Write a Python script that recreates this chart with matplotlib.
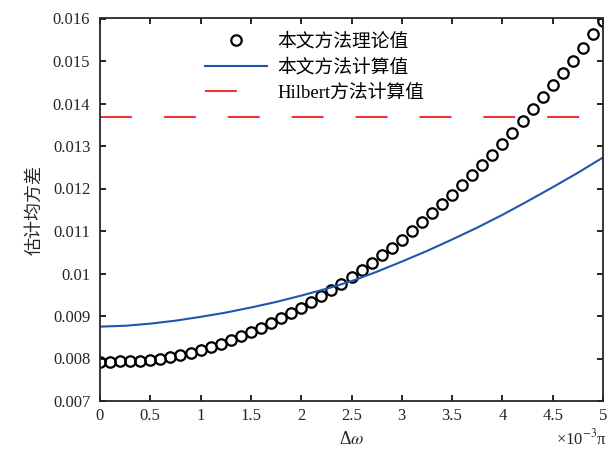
import numpy as np
import matplotlib
matplotlib.use('Agg')
import matplotlib.pyplot as plt

plt.rcParams['font.family'] = ['Liberation Serif', 'Noto Sans CJK SC']
plt.rcParams['mathtext.fontset'] = 'stix'
plt.rcParams['lines.scale_dashes'] = False

# theory values (circles), x step 0.1 (x10^-3 pi)
x_theory = np.round(np.arange(0, 5.01, 0.1), 1)
y_theory = [0.00792, 0.00792, 0.00793, 0.00794, 0.00795, 0.00797, 0.00800, 0.00803, 0.00808, 0.00814,
            0.00821, 0.00827, 0.00835, 0.00843, 0.00852, 0.00862, 0.00872, 0.00883, 0.00895, 0.00907,
            0.00920, 0.00933, 0.00947, 0.00961, 0.00976, 0.00992, 0.01008, 0.01025, 0.01043, 0.01061,
            0.01080, 0.01100, 0.01121, 0.01142, 0.01163, 0.01185, 0.01208, 0.01232, 0.01256, 0.01280,
            0.01305, 0.01331, 0.01358, 0.01386, 0.01415, 0.01443, 0.01472, 0.01500, 0.01531, 0.01564,
            0.01595]

# computed values (blue line)
x_calc = np.arange(0, 5.01, 0.25)
y_calc = [0.00875, 0.00877, 0.00882, 0.00889, 0.00898, 0.00908, 0.00920, 0.00933, 0.00948, 0.00964,
          0.00982, 0.01004, 0.01028, 0.01053, 0.01080, 0.01108, 0.01138, 0.01170, 0.01203, 0.01237,
          0.01273]

# Hilbert method (constant)
x_hil = [0, 5]
y_hil = [0.01368, 0.01368]

xtick_labels = ['0', '0.5', '1', '1.5', '2', '2.5', '3', '3.5', '4', '4.5', '5']
ytick_labels = ['0.007', '0.008', '0.009', '0.01', '0.011', '0.012', '0.013', '0.014', '0.015', '0.016']

fig = plt.figure(figsize=(6.12, 4.54), dpi=100)
ax = fig.add_axes([100/612, 1-401/454, 503/612, 382.5/454])

ax.plot(x_theory, y_theory, 'o', mfc='none', mec='black', ms=7.5, mew=1.6, label='本文方法理论值')
ax.plot(x_calc, y_calc, color='#2255b0', lw=1.5, label='本文方法计算值')
ax.plot(x_hil, y_hil, color='#e8383a', lw=1.5, dashes=(23, 23), label='Hilbert方法计算值')

ax.set_xlim(0, 5)
ax.set_ylim(0.007, 0.016)
ax.set_xticks(np.arange(0, 5.01, 0.5))
ax.set_xticklabels(xtick_labels)
ax.set_yticks(np.arange(0.007, 0.01601, 0.001))
ax.set_yticklabels(ytick_labels)
ax.tick_params(direction='in', top=True, right=True, length=4, width=1.2,
               labelsize=12, labelcolor='#262626')
ax.tick_params(axis='y', pad=7)
ax.tick_params(axis='x', pad=5)
for s in ax.spines.values():
    s.set_linewidth(1.3)
    s.set_color('#262626')

ax.set_xlabel('Δ$\\omega$', fontsize=13, color='#262626', labelpad=5)
ax.set_ylabel('估计均方差', fontsize=13, color='#262626', labelpad=7)
fig.text(582/612, 1-438/454, '×10$^{-3}$π', fontsize=12, color='#262626', ha='center', va='center')

ax.legend(frameon=False, loc='upper left', bbox_to_anchor=(205/612, 1-33/454),
          bbox_transform=fig.transFigure, borderpad=0, borderaxespad=0,
          handlelength=3.3, handletextpad=0.55, labelspacing=0.42, fontsize=13.5)

fig.savefig('out.png', dpi=100)
